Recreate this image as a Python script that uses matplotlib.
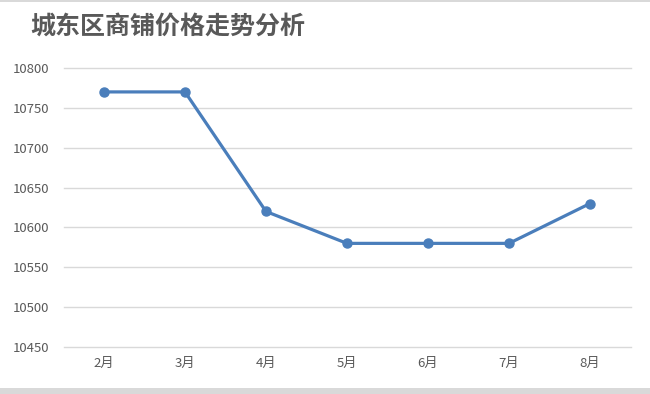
import matplotlib

matplotlib.use("Agg")
import matplotlib.pyplot as plt
from matplotlib.patches import Rectangle

plt.rcParams["font.family"] = ["Noto Sans CJK SC", "DejaVu Sans"]

months = ["2月", "3月", "4月", "5月", "6月", "7月", "8月"]
prices = [10770, 10770, 10620, 10580, 10580, 10580, 10630]
y_ticks = [10450, 10500, 10550, 10600, 10650, 10700, 10750, 10800]

fig = plt.figure(figsize=(6.5, 3.94), dpi=100)
ax = fig.add_axes([63.5 / 650, 1 - 347 / 394, 567 / 650, 279 / 394])

x = list(range(len(months)))
ax.plot(x, prices, color="#4a7ebb", linewidth=2.3, marker="o",
        markersize=6.5, solid_capstyle="round", zorder=3)

ax.set_xlim(-0.5, len(months) - 0.5)
ax.set_ylim(10450, 10800)
ax.set_yticks(y_ticks)
ax.set_yticklabels([str(v) for v in y_ticks])
ax.set_xticks(x)
ax.set_xticklabels(months)
ax.grid(axis="y", color="#d9d9d9", linewidth=1.0)
for gl in ax.get_ygridlines():
    gl.set_clip_on(False)
ax.set_axisbelow(True)
for s in ax.spines.values():
    s.set_visible(False)
ax.tick_params(axis="both", length=0, labelsize=9.5, colors="#595959")
ax.tick_params(axis="y", pad=10)
ax.tick_params(axis="x", pad=7)

fig.text(30 / 650, 1 - 27 / 394, "城东区商铺价格走势分析", fontsize=18,
         fontweight="bold", color="#595959", va="center", ha="left")

# frame around the chart area
fig.patches.append(Rectangle((0, 1 - 2 / 394), 1, 2 / 394, transform=fig.transFigure,
                             facecolor="#d9d9d9", edgecolor="none"))
fig.patches.append(Rectangle((0, 0), 1, 6 / 394, transform=fig.transFigure,
                             facecolor="#d9d9d9", edgecolor="none"))

fig.savefig("out.png", dpi=100)
